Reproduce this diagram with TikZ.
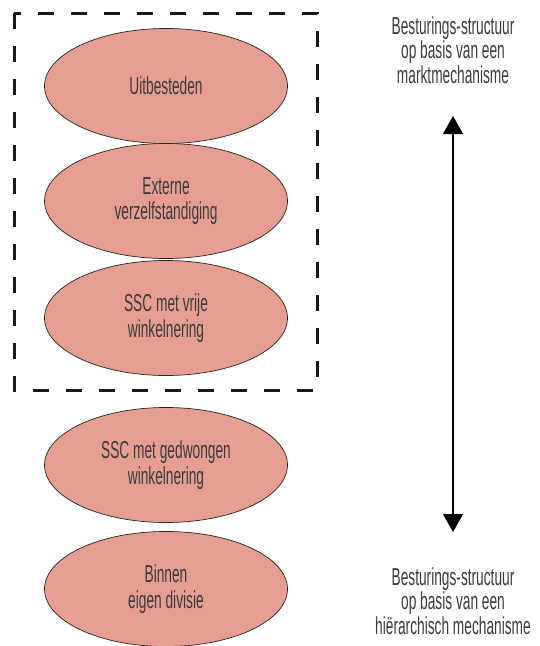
\documentclass[tikz,border=0pt]{standalone}
\usepackage{fontspec}
\setmainfont{Liberation Sans}[FakeStretch=0.56]
\usetikzlibrary{arrows.meta,shapes.geometric}
\definecolor{salmon}{RGB}{229,158,145}
\definecolor{txt}{RGB}{60,60,60}
\tikzset{
  oval/.style={ellipse, draw=black!85, line width=0.7pt, fill=salmon,
    minimum width=243pt, minimum height=115pt, inner sep=0pt,
    align=center, text=txt, font=\fontsize{24.5}{25.5}\selectfont},
  side/.style={align=center, text=txt, font=\fontsize{24.5}{24.5}\selectfont, inner sep=0pt},
  dashbox/.style={draw=black!90, line width=3pt, dash pattern=on 16pt off 17pt},
  bothway/.style={line width=1.3pt, {Triangle[width=20pt,length=18pt]}-{Triangle[width=20pt,length=18pt]}}
}
\begin{document}
\begin{tikzpicture}[x=1pt,y=-1pt]
\useasboundingbox (0,0) rectangle (540,646);
\draw[dashbox] (14,13) rectangle (317,390);
\node[oval] (e1) at (166,86) {Uitbesteden};
\node[oval] (e2) at (166,201) {Externe\\verzelfstandiging};
\node[oval] (e3) at (166,318) {SSC met vrije\\winkelnering};
\node[oval] (e4) at (166,465) {SSC met gedwongen\\winkelnering};
\node[oval] (e5) at (166,589) {Binnen\\eigen divisie};
\node[side] (t1) at (453,50) {Besturings-structuur\\op basis van een\\marktmechanisme};
\node[side] (t2) at (453,601) {Besturings-structuur\\op basis van een\\hiërarchisch mechanisme};
\coordinate (atop) at (453,116);
\coordinate (abot) at (453,532);
\draw[bothway] (atop) -- (abot);
\end{tikzpicture}
\end{document}
